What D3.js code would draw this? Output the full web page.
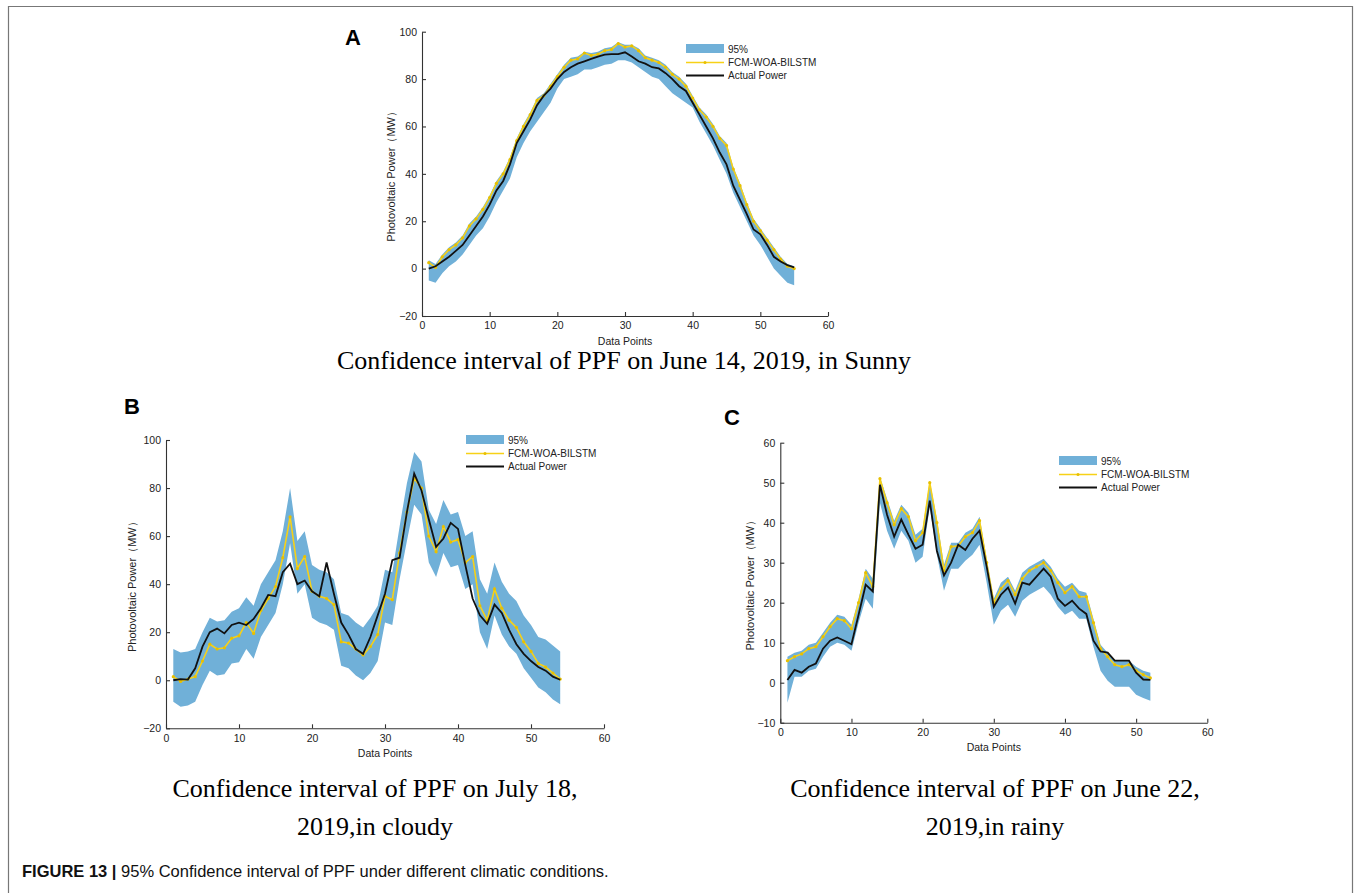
<!DOCTYPE html>
<html>
<head>
<meta charset="utf-8">
<script src="https://cdn.jsdelivr.net/npm/d3@7"></script>
<style>
  body { margin: 0; background: #fff; }
  text { font-family: "Liberation Sans", Arial, sans-serif; }
</style>
</head>
<body>
<div class="chart"></div>
<script>
// ---- data ----
var xTicks = [0, 10, 20, 30, 40, 50, 60];
var yTicksAB = [-20, 0, 20, 40, 60, 80, 100];
var yTicksC = [-10, 0, 10, 20, 30, 40, 50, 60];
var legendLabels = ['95%', 'FCM-WOA-BILSTM', 'Actual Power'];

// A: June 14, sunny (55 points)
var sunnyActual = [0, 1, 3, 5, 7.5, 10, 14, 18, 22, 27, 33, 37, 44, 53, 58, 63, 69, 73, 76, 80,
  83, 85, 86.5, 87.5, 88.5, 89.5, 90.3, 90.5, 90.5, 91.3, 89.5, 87.5, 86.5, 85, 84.5, 82.5, 80, 77, 75, 70,
  65, 60, 55, 49, 44, 35, 29, 23, 16.5, 14.5, 10, 5, 3, 1.5, 0.5];
var sunnyPred = [2.5, 0.5, 5, 8, 10, 13, 18, 21, 25, 30, 36, 40, 46, 54, 60, 65, 71, 73, 77, 81,
  85, 88, 88.5, 91, 90, 90.5, 92, 92.5, 95, 93.5, 94, 92, 89, 88, 87, 85, 82, 80, 77, 72,
  67, 64, 60, 55, 52, 42, 35, 27, 20, 16, 12, 8, 4, 1, 0];
var sunnyUpper = [3.5, 2, 6, 9, 11, 14, 19, 22, 26, 31, 37, 41, 47, 55, 61, 66, 72, 74, 78, 82,
  86, 89, 89.5, 91.5, 91, 91.5, 93, 93.5, 95.5, 94.5, 94.5, 93, 90, 89, 88, 86, 83, 81, 78, 73,
  68, 65, 61, 56, 53, 43, 36, 28, 21, 17, 13, 9, 5, 2, 1];
var sunnyLower = [-5, -6, -2, 1, 3, 6, 10, 14, 17, 22, 28, 33, 38, 47, 53, 58, 62, 66, 70, 76,
  80, 81, 82, 84, 84, 85, 86, 86.5, 88, 88, 87, 85, 83, 81, 80, 77, 74, 72, 70, 68,
  62, 57, 52, 46, 40, 32, 26, 20, 14, 10, 5, 0, -3, -6, -7];

// B: July 18, cloudy (54 points)
var cloudyActual = [0, 0.5, 0.3, 5, 14, 20, 21.5, 19.5, 23, 24, 23, 25.5, 30, 35.5, 35, 45, 48.5, 40, 41.5, 37,
  35, 49, 36, 24, 19, 13, 11, 18, 27, 36, 50, 51, 70, 86, 79, 67, 55.5, 59, 65.5, 63,
  48, 34, 27, 23.5, 31.5, 28, 21, 15, 11, 8, 5.5, 4, 1.5, 0.2];
var cloudyPred = [1.5, -0.5, 0.5, 1.5, 8, 15, 13, 13.5, 17.5, 18.5, 24, 19.5, 29, 34, 39, 51, 68, 46.5, 51.5, 37,
  35, 34, 31.5, 16, 15.5, 13, 10.5, 14, 19, 35, 33.5, 53, 70, 84, 80, 60, 53.5, 64, 57.5, 58.5,
  49, 51.5, 31, 25, 38, 30, 25, 22, 16, 12, 7, 5.5, 3, 0.5];
var cloudyUpper = [13, 11.5, 12, 13, 20, 26, 24.5, 25, 28.5, 30, 34.5, 31, 40, 45, 50, 62, 80, 58, 62, 48,
  46, 45, 42, 28, 27, 24, 22, 26, 31, 46, 45, 64, 82, 95, 91, 71, 65, 75, 69, 70,
  60, 62, 42, 36, 49, 41, 36, 33, 27, 23, 18, 17, 14.5, 12];
var cloudyLower = [-9, -11, -10.5, -9, -2, 4, 2, 2.5, 7, 7.5, 13, 9, 18, 23, 28, 40, 57, 36, 40, 26,
  24, 23, 21, 6, 5, 2, 0, 3, 8, 24, 23, 42, 58, 73, 69, 49, 43, 53, 47, 48,
  38, 40, 20, 13, 27, 19, 14, 11, 5, 1, -3, -5, -8, -10];

// C: June 22, rainy (52 points)
var rainyActual = [0.7, 3.2, 2.5, 4, 4.8, 8.5, 10.5, 11.3, 10.5, 9.6, 17, 24.5, 22.8, 49.5, 42, 36.5, 40.8, 37, 33.5, 34.5,
  45.5, 33, 26.8, 30, 34.5, 33.2, 36, 38, 29, 19, 22, 23.8, 19.8, 25, 24.5, 26.5, 28.5, 26.5, 21, 19.2,
  20.5, 18.5, 17.2, 10.5, 7.8, 7.5, 5.5, 5.5, 5.5, 2.5, 0.8, 0.7];
var rainyPred = [5.5, 6.5, 7.2, 8.5, 9, 11.5, 14, 16, 15.5, 13.5, 20, 27.5, 24, 51, 45, 39.5, 43.5, 41.5, 35.5, 37.5,
  50, 40, 28, 34, 34.2, 36.5, 37.5, 40.5, 30, 20, 23.5, 25.5, 22, 26, 28, 29, 30, 28, 25, 22.5,
  24, 21.5, 21.5, 15, 8.5, 6.5, 4.5, 4, 4.5, 3, 2, 1.2];
var rainyUpper = [6.5, 7.5, 8, 9.5, 10, 12.5, 15, 17, 16.5, 14.5, 21, 28.5, 26, 51.5, 46, 40.5, 44.5, 42.5, 37, 38.5,
  50.5, 41, 29.5, 35, 35, 37.5, 38.5, 41.5, 31, 21, 25, 26.5, 23, 27.5, 29, 30, 31, 29, 26, 24,
  25, 23, 22.5, 16, 9.5, 7.5, 5.5, 5.5, 5.5, 4, 3, 2.5];
var rainyLower = [-5, 1.5, 1.5, 3, 3.5, 6.5, 9, 10, 9.5, 8, 15, 21, 18.5, 45, 38, 33.5, 38, 35.5, 30, 31.5,
  44, 32, 23, 28.5, 28.5, 30.5, 32, 34.5, 25, 14.5, 18, 19.5, 16.5, 20.5, 22, 23, 24, 22, 19, 17,
  18, 16, 16, 9, 3, 0.5, -1, -1, -1, -3, -3.8, -4.5];

// ---- layout ----
var W = 1354, H = 893;
var bandColor = '#70b0d8';
var predColor = '#f7d117';
var actualColor = '#111';

var svg = d3.select('.chart')
  .append('svg')
    .attr('width', W)
    .attr('height', H);

// figure frame (open at bottom)
svg.append('path')
  .attr('d', 'M8.5,893 V6.5 H1352.5 V893')
  .attr('fill', 'none')
  .attr('stroke', '#777')
  .attr('stroke-width', 1.2);

var panels = [
  { letter: 'A', lx: 345, ly: 45, x0: 422, x1: 828, yTop: 31.7, yBot: 316, yDomain: [-20, 100], yTicks: yTicksAB,
    actual: sunnyActual, pred: sunnyPred, upper: sunnyUpper, lower: sunnyLower,
    legX: 686, legY: 44, ylabX: 391,
    title: ['Confidence interval of PPF on June 14, 2019, in Sunny'], tx: 624, ty: 369 },
  { letter: 'B', lx: 124, ly: 414, x0: 166, x1: 604, yTop: 440, yBot: 728.3, yDomain: [-20, 100], yTicks: yTicksAB,
    actual: cloudyActual, pred: cloudyPred, upper: cloudyUpper, lower: cloudyLower,
    legX: 466, legY: 435, ylabX: 132,
    title: ['Confidence interval of PPF on July 18,', '2019,in cloudy'], tx: 375, ty: 797 },
  { letter: 'C', lx: 724, ly: 425, x0: 780.3, x1: 1207.3, yTop: 442.7, yBot: 722.7, yDomain: [-10, 60], yTicks: yTicksC,
    actual: rainyActual, pred: rainyPred, upper: rainyUpper, lower: rainyLower,
    legX: 1059, legY: 456, ylabX: 750,
    title: ['Confidence interval of PPF on June 22,', '2019,in rainy'], tx: 995, ty: 797 }
];

panels.forEach(drawPanel);

function drawPanel(p) {
  var g = svg.append('g');
  var x = d3.scaleLinear().domain([0, 60]).range([p.x0, p.x1]);
  var y = d3.scaleLinear().domain(p.yDomain).range([p.yBot, p.yTop]);
  var idx = d3.range(p.actual.length);

  // confidence band
  var area = d3.area()
    .x(i => x(i + 1))
    .y0(i => y(p.lower[i]))
    .y1(i => y(p.upper[i]));
  g.append('path')
    .datum(idx)
    .attr('d', area)
    .attr('fill', bandColor);

  // predicted
  var predLine = d3.line().x(i => x(i + 1)).y(i => y(p.pred[i]));
  g.append('path')
    .datum(idx)
    .attr('d', predLine)
    .attr('fill', 'none')
    .attr('stroke', predColor)
    .attr('stroke-width', 1.6);
  g.selectAll('circle.pt')
    .data(idx)
    .enter()
    .append('circle')
      .attr('class', 'pt')
      .attr('cx', i => x(i + 1))
      .attr('cy', i => y(p.pred[i]))
      .attr('r', 1.6)
      .attr('fill', '#e8c000');

  // actual
  var actLine = d3.line().x(i => x(i + 1)).y(i => y(p.actual[i]));
  g.append('path')
    .datum(idx)
    .attr('d', actLine)
    .attr('fill', 'none')
    .attr('stroke', actualColor)
    .attr('stroke-width', 1.8);

  // axes (MATLAB style, ticks inward)
  var xAxis = g.append('g')
    .attr('transform', `translate(0, ${p.yBot})`)
    .call(d3.axisBottom(x).tickValues(xTicks).tickSize(-4).tickSizeOuter(0).tickPadding(6));
  var yAxis = g.append('g')
    .attr('transform', `translate(${p.x0}, 0)`)
    .call(d3.axisLeft(y).tickValues(p.yTicks).tickSize(-4).tickSizeOuter(0).tickPadding(5));
  [xAxis, yAxis].forEach(a => {
    a.selectAll('path, line').attr('stroke', '#333').attr('stroke-width', 1.1);
    a.selectAll('text').attr('fill', '#222').style('font-size', '10.5px');
  });

  // axis labels
  g.append('text')
    .attr('x', (p.x0 + p.x1) / 2)
    .attr('y', p.yBot + 28.5)
    .attr('text-anchor', 'middle')
    .attr('fill', '#222')
    .style('font-size', '10.5px')
    .text('Data Points');
  g.append('text')
    .attr('transform', `translate(${p.ylabX}, ${(p.yTop + p.yBot) / 2}) rotate(-90)`)
    .attr('text-anchor', 'middle')
    .attr('dy', '0.35em')
    .attr('fill', '#222')
    .style('font-size', '11px')
    .text('Photovoltaic Power（MW）');

  // legend
  var leg = g.append('g').attr('transform', `translate(${p.legX}, ${p.legY})`);
  leg.append('rect').attr('x', 0).attr('y', 0).attr('width', 38).attr('height', 9).attr('fill', bandColor);
  leg.append('line').attr('x1', 0).attr('x2', 38).attr('y1', 18.5).attr('y2', 18.5)
    .attr('stroke', predColor).attr('stroke-width', 1.5);
  leg.append('circle').attr('cx', 19).attr('cy', 18.5).attr('r', 1.5).attr('fill', '#e8c000');
  leg.append('line').attr('x1', 0).attr('x2', 38).attr('y1', 31.5).attr('y2', 31.5)
    .attr('stroke', actualColor).attr('stroke-width', 1.8);
  leg.selectAll('text.leg')
    .data(legendLabels)
    .enter()
    .append('text')
      .attr('class', 'leg')
      .attr('x', 42)
      .attr('y', (d, i) => 5 + i * 13.3)
      .attr('dy', '0.35em')
      .attr('fill', '#222')
      .style('font-size', '10px')
      .text(d => d);

  // panel letter
  svg.append('text')
    .attr('x', p.lx)
    .attr('y', p.ly)
    .style('font-size', '22px')
    .style('font-weight', 'bold')
    .attr('fill', '#000')
    .text(p.letter);

  // title under the panel
  p.title.forEach((t, i) => {
    svg.append('text')
      .attr('x', p.tx)
      .attr('y', p.ty + i * 38)
      .attr('text-anchor', 'middle')
      .style('font-family', '"Liberation Serif", "Times New Roman", serif')
      .style('font-size', '26px')
      .attr('fill', '#000')
      .text(t);
  });
}

// caption
var cap = svg.append('text')
  .attr('x', 22)
  .attr('y', 877)
  .style('font-size', '16.5px')
  .attr('fill', '#111');
cap.append('tspan').style('font-weight', 'bold').text('FIGURE 13 |');
cap.append('tspan').text(' 95% Confidence interval of PPF under different climatic conditions.');
</script>
</body>
</html>
